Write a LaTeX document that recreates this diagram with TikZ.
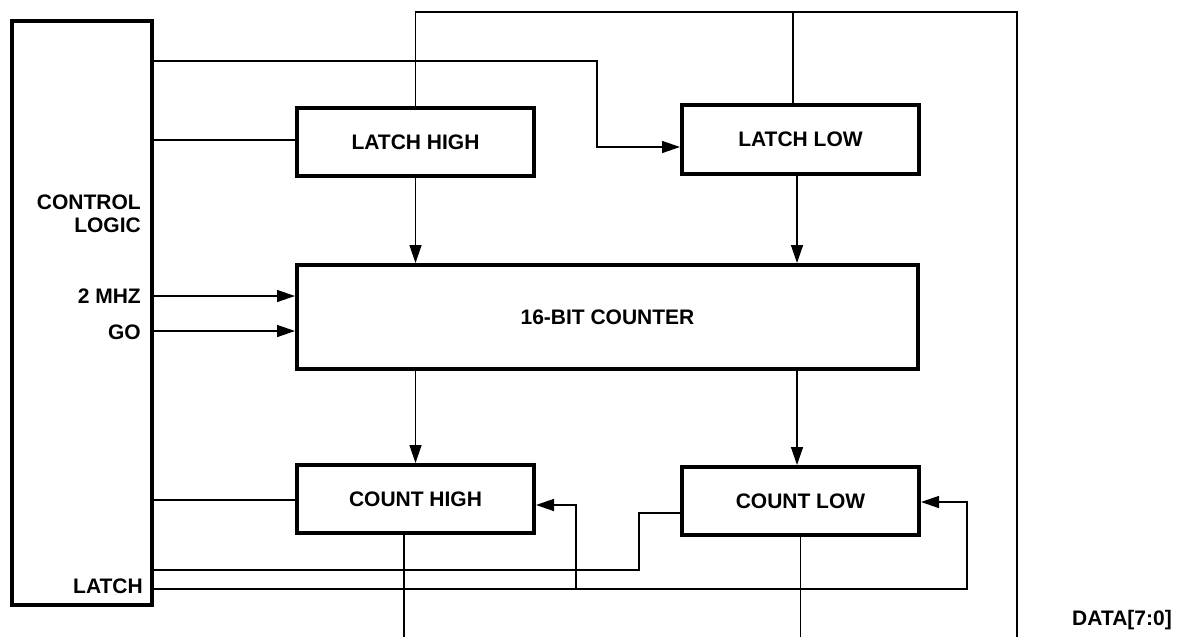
\documentclass[tikz,border=0pt]{standalone}
\usepackage{fontspec}
\setmainfont{Liberation Sans}
\usetikzlibrary{arrows.meta}
\tikzset{
  blk/.style={draw, line width=4pt, minimum width=237pt, minimum height=68pt, inner sep=0pt,
    font=\fontsize{21}{23}\selectfont\bfseries},
  wire/.style={line width=1.4pt},
  arr/.style={wire, -{Triangle[length=18pt,width=12pt]}},
  lbl/.style={inner sep=0pt, font=\fontsize{21}{23}\selectfont\bfseries}
}
\begin{document}
\begin{tikzpicture}[x=1pt,y=-1pt]
\useasboundingbox (0,0) rectangle (1182,637);
% blocks
\node[blk, minimum width=140pt, minimum height=584pt] (ctrl) at (82,313) {};
\node[blk] (lh) at (415.5,142) {LATCH HIGH};
\node[blk, minimum height=69pt] (ll) at (800.5,139.5) {LATCH LOW};
\node[blk, minimum width=621pt, minimum height=104pt] (cnt) at (607.5,317) {16-BIT COUNTER};
\node[blk] (ch) at (415.5,499) {COUNT HIGH};
\node[blk] (cl) at (800.5,501) {COUNT LOW};
% labels
\node[lbl, anchor=base east, align=right] (ctl) at (141,232) {CONTROL\\LOGIC\hspace{3pt}};
\node[lbl, anchor=base east] (mhz) at (141,303.5) {2 MHZ};
\node[lbl, anchor=base east] (go) at (141,339.5) {GO};
\node[lbl, anchor=base east] (lat) at (143,593) {LATCH};
\node[lbl, anchor=base] (data) at (1122,625) {DATA[7:0]};
% helper coordinates
\coordinate (busR) at (1017,12);
\coordinate (busB) at (1017,637);
\coordinate (llbend) at (597,147);
\coordinate (clbend) at (639,570);
\coordinate (latR) at (967,502);
\coordinate (latM) at (576,589);
% data bus
\draw[wire] (lh.north) |- (busR) -- (busB);
\draw[wire] ([xshift=-7.5pt]ll.north) -- ([xshift=-7.5pt]ll.north |- busR);
% control to latches
\draw[arr] (ctrl.east |- 0,61) -| (llbend) -- (ll.west |- llbend);
\draw[wire] (ctrl.east |- 0,140) -- (lh.west |- 0,140);
% latches to counter
\draw[arr] (lh.south) -- (lh.south |- cnt.north);
\draw[arr] ([xshift=-3.5pt]ll.south) -- ([xshift=-3.5pt]ll.south |- cnt.north);
% clock and go
\draw[arr] (ctrl.east |- 0,296) -- (cnt.west |- 0,296);
\draw[arr] (ctrl.east |- 0,331) -- (cnt.west |- 0,331);
% counter to count registers
\draw[arr] (cnt.south -| ch.north) -- (ch.north);
\draw[arr] (cnt.south -| 797,0) -- (797,0 |- cl.north);
% control to count high
\draw[wire] (ctrl.east |- 0,500) -- (ch.west |- 0,500);
% count registers to data
\draw[wire] (ch.south -| 404,0) -- (404,637);
\draw[wire] (cl.south) -- (cl.south |- busB);
% count low to control
\draw[wire] (cl.west |- 0,513) -| (clbend) -- (ctrl.east |- clbend);
% latch signal
\draw[arr] (ctrl.east |- latM) -| (latR) -- (cl.east |- latR);
\draw[arr] (latM) |- (ch.east |- 0,505);
\end{tikzpicture}
\end{document}
